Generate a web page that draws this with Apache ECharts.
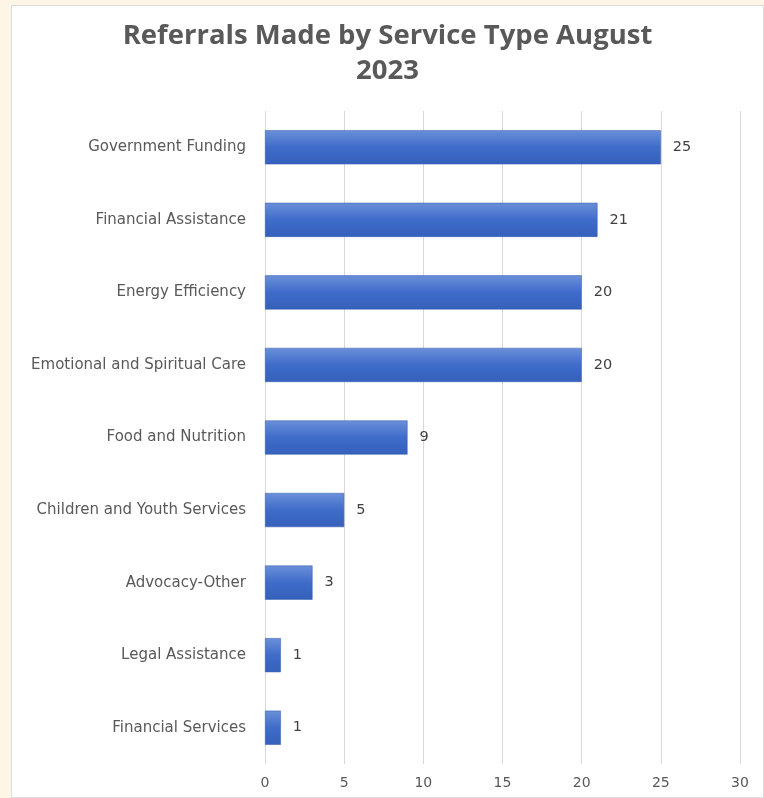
<!DOCTYPE html>
<html>
<head>
<meta charset="utf-8">
<script src="https://cdn.jsdelivr.net/npm/echarts@6/dist/echarts.min.js"></script>
<style>
html,body{margin:0;padding:0;background:#fdf5e6;width:764px;height:798px;overflow:hidden;}
#chart{position:absolute;left:11px;top:5px;width:753px;height:793px;background:#ffffff;box-sizing:border-box;border:1px solid #dcdcdc;}
</style>
</head>
<body>
<div id="chart"></div>
<script>
const categories = [
  "Government Funding",
  "Financial Assistance",
  "Energy Efficiency",
  "Emotional and Spiritual Care",
  "Food and Nutrition",
  "Children and Youth Services",
  "Advocacy-Other",
  "Legal Assistance",
  "Financial Services"
];
const referrals = [25, 21, 20, 20, 9, 5, 3, 1, 1];
const xTicks = { min: 0, max: 30, interval: 5 };
const titleText = "Referrals Made by Service Type August\n2023";

const chart = echarts.init(document.getElementById('chart'));
chart.setOption({
  animation: false,
  title: {
    text: titleText,
    left: 'center',
    top: 8,
    textStyle: { fontFamily: 'Open Sans', fontSize: 27.5, fontWeight: 'bold', color: '#595959', lineHeight: 35 }
  },
  grid: { left: 253, right: 23, top: 105, bottom: 33, containLabel: false },
  xAxis: {
    type: 'value',
    min: xTicks.min, max: xTicks.max, interval: xTicks.interval,
    axisLine: { show: false },
    axisTick: { show: false },
    axisLabel: { color: '#595959', fontFamily: 'DejaVu Sans', fontSize: 14, margin: 12 },
    splitLine: { show: true, lineStyle: { color: '#d9d9d9', width: 1 } }
  },
  yAxis: {
    type: 'category',
    data: categories.slice().reverse(),
    axisLine: { show: false },
    axisTick: { show: false },
    axisLabel: { color: '#595959', fontFamily: 'DejaVu Sans', fontSize: 15, margin: 19 }
  },
  series: [{
    type: 'bar',
    data: referrals.slice().reverse(),
    barWidth: '47%',
    itemStyle: {
      color: new echarts.graphic.LinearGradient(0, 0, 0, 1, [
        { offset: 0, color: '#6b90d9' },
        { offset: 0.5, color: '#3f6cca' },
        { offset: 1, color: '#3560bb' }
      ]),
      borderColor: '#3158ad',
      borderWidth: 0.5
    },
    label: {
      show: true, position: 'right', distance: 12,
      color: '#404040', fontFamily: 'DejaVu Sans', fontSize: 14.5
    }
  }]
});
</script>
</body>
</html>
